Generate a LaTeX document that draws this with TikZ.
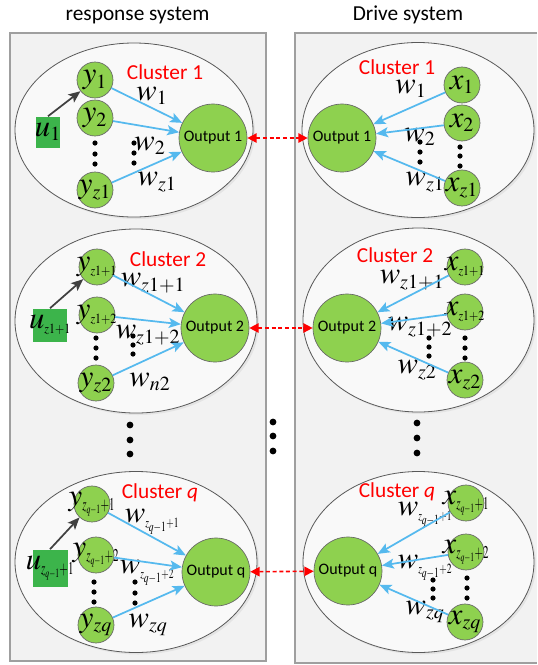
\documentclass[tikz,border=0pt]{standalone}
\usepackage{mathptmx}
\usepackage[no-math]{fontspec}
\setmainfont{Carlito}
\DeclareMathSizes{23}{23}{15}{10.5}
\usetikzlibrary{arrows.meta,shapes.geometric,shadows}
\definecolor{ngreen}{HTML}{8ED14F}
\definecolor{ugreen}{HTML}{3CB44B}
\definecolor{wblue}{HTML}{55B9EE}
\definecolor{panelg}{HTML}{F2F2F2}
\definecolor{ellg}{HTML}{F9F9F9}
\newcommand{\ct}[1]{\makebox[0pt]{$#1$}}
% squeezed subscripts
\newcommand{\sa}[1]{\hbox{\scalebox{0.85}[1]{$\scriptscriptstyle z1+#1$}}}
\newcommand{\sq}[1]{\hbox{\scalebox{0.55}[0.9]{$\scriptstyle z_{q-1}+#1$}}}
\newcommand{\wq}[1]{\hbox{\scalebox{0.68}[1]{$\scriptscriptstyle z_{q-1}+#1$}}}
\begin{document}
\begin{tikzpicture}[x=0.75pt,y=-0.75pt,
  panel/.style={draw=gray!75, line width=1.1pt, fill=panelg},
  clus/.style={ellipse, draw=black!65, line width=0.6pt, fill=ellg, inner sep=0pt,
    drop shadow={opacity=0.12, shadow xshift=1.5pt, shadow yshift=-1.5pt}},
  neuron/.style={circle, draw=black!60, line width=0.5pt, fill=ngreen, minimum size=27pt, inner sep=0pt,
    font=\fontsize{23}{25}\selectfont},
  outn/.style={circle, draw=black!60, line width=0.5pt, fill=ngreen, minimum size=51pt, inner sep=0pt,
    font=\fontsize{12}{14}\selectfont},
  ubox/.style={rectangle, fill=ugreen, inner sep=0pt, font=\fontsize{23}{25}\selectfont},
  clab/.style={text=red, font=\fontsize{16}{18}\selectfont},
  wlab/.style={inner sep=0pt, font=\fontsize{23}{25}\selectfont},
  ttl/.style={font=\fontsize{16}{18}\selectfont},
  wt/.style={draw=wblue, line width=1.3pt, -{Stealth[length=9pt,width=7.5pt,inset=2pt]}},
  ctl/.style={draw=black!75, line width=1.3pt, -{Stealth[length=9pt,width=7.5pt,inset=2pt]}},
  link/.style={draw=red, dashed, line width=1.2pt, dash pattern=on 3pt off 2pt,
    {Triangle[length=7pt,width=7pt]}-{Triangle[length=7pt,width=7pt]}},
]
\useasboundingbox (0,0) rectangle (537,665);
% titles
\node[ttl] (t1) at (137.5,15) {response system};
\node[ttl] (t2) at (408,15) {Drive system};
% panels
\filldraw[panel] (10,33) rectangle (266,661);
\fill[panelg] (295,33) rectangle (537,663);
\draw[draw=gray!75, line width=1.1pt] (537,33) -- (295,33) -- (295,663) -- (537,663);

% ================= ellipses
\node[clus, minimum width=178.5pt, minimum height=130.5pt] (L1) at (134,130) {};
\node[clus, minimum width=181.5pt, minimum height=138pt] (L2) at (136,321) {};
\node[clus, minimum width=181.5pt, minimum height=135.75pt] (Lq) at (136,562) {};
\node[clus, minimum width=174pt, minimum height=131.25pt] (R1) at (418,130) {};
\node[clus, minimum width=173.25pt, minimum height=138pt] (R2) at (418.5,320) {};
\node[clus, minimum width=173.25pt, minimum height=135.75pt] (Rq) at (418.5,562) {};

% ================= left cluster 1
\node[neuron] (ya1) at (95,80) {\ct{y_1}};
\node[neuron] (ya2) at (95,118) {\ct{y_2}};
\node[neuron] (ya3) at (95,190) {\ct{y_{z1}}};
\node[ubox, minimum width=18pt, minimum height=23.25pt] (ua) at (48,132) {\ct{u_1}};
\node[outn] (oL1) at (213,138) {Output 1};
\node[clab] (cL1) at (165,72) {Cluster 1};
\node[wlab] (wa1) at (152,96) {$w_1$};
\node[wlab] (wa2) at (150,146) {$w_2$};
\node[wlab] (wa3) at (157,182) {$w_{z1}$};
\foreach \y in {143,154,164} \fill (95,\y) circle (2.6);
\foreach \y in {143,153,163} \fill (134,\y) circle (2.6);
\draw[ctl] (ua.north) -- (ya1);
\draw[wt] (ya1) -- (oL1);
\draw[wt] (ya2) -- (oL1);
\draw[wt] (ya3) -- (oL1);

% ================= right cluster 1
\node[neuron] (xa1) at (462,85) {\ct{x_1}};
\node[neuron] (xa2) at (462,123) {\ct{x_2}};
\node[neuron] (xa3) at (462,188) {\ct{x_{z1}}};
\node[outn] (oR1) at (342,138) {Output 1};
\node[clab] (cR1) at (397,67) {Cluster 1};
\node[wlab] (wb1) at (411,89) {$w_1$};
\node[wlab] (wb2) at (420,137) {$w_2$};
\node[wlab] (wb3) at (425,182) {$w_{z1}$};
\foreach \y in {142,152,162} \fill (420,\y) circle (2.6);
\foreach \y in {147,156,166} \fill (460,\y) circle (2.6);
\draw[wt] (xa1) -- (oR1);
\draw[wt] (xa2) -- (oR1);
\draw[wt] (xa3) -- (oR1);

% ================= left cluster 2
\node[neuron] (yb1) at (97,267) {\ct{y_{\sa{1}}}};
\node[neuron] (yb2) at (97,315) {\ct{y_{\sa{2}}}};
\node[neuron] (yb3) at (96,383) {\ct{y_{z2}}};
\node[ubox, minimum width=25.5pt, minimum height=24.75pt] (ub) at (50,325) {\ct{u_{\sa{1}}}};
\node[outn] (oL2) at (215,328) {Output 2};
\node[clab] (cL2) at (168,259) {Cluster 2};
\node[wlab] (wc1) at (153,283) {$w_{z1+1}$};
\node[wlab] (wc2) at (148,335) {$w_{z1+2}$};
\node[wlab] (wc3) at (150,382) {$w_{n2}$};
\foreach \y in {338,348,358} \fill (96,\y) circle (2.6);
\foreach \y in {336,345,354} \fill (133,\y) circle (2.6);
\draw[ctl] (ub.north) -- (yb1);
\draw[wt] (yb1) -- (oL2);
\draw[wt] (yb2) -- (oL2);
\draw[wt] (yb3) -- (oL2);

% ================= right cluster 2
\node[neuron] (xb1) at (465,267) {\ct{x_{\sa{1}}}};
\node[neuron] (xb2) at (465,312) {\ct{x_{\sa{2}}}};
\node[neuron] (xb3) at (465,380) {\ct{x_{z2}}};
\node[outn] (oR2) at (347,328) {Output 2};
\node[clab] (cR2) at (395,255) {Cluster 2};
\node[wlab] (wd1) at (412,280) {$w_{z1+1}$};
\node[wlab] (wd2) at (420,327) {$w_{z1+2}$};
\node[wlab] (wd3) at (417,370) {$w_{z2}$};
\foreach \y in {338,347,356} \fill (429,\y) circle (2.6);
\foreach \y in {338,348,358} \fill (465,\y) circle (2.6);
\draw[wt] (xb1) -- (oR2);
\draw[wt] (xb2) -- (oR2);
\draw[wt] (xb3) -- (oR2);

% ================= dots between clusters
\foreach \y in {425,440,454} \fill (130,\y) circle (3.4);
\foreach \y in {423,438,453} \fill (417,\y) circle (3.4);
\foreach \y in {422,436,451} \fill (273,\y) circle (3.4);

% ================= left cluster q
\node[neuron] (yc1) at (92,504) {\ct{y_{\sq{1}}}};
\node[neuron] (yc2) at (96,555) {\ct{y_{\sq{2}}}};
\node[neuron] (yc3) at (96,625) {\ct{y_{zq}}};
\node[ubox, minimum width=26.25pt, minimum height=27.75pt] (uc) at (50,568) {\ct{u_{\sq{1}}}};
\node[outn] (oLq) at (216,572) {Output q};
\node[clab] (cLq) at (160,493) {Cluster \textit{q}};
\node[wlab] (we1) at (152,522) {$w_{\wq{1}}$};
\node[wlab] (we2) at (147,573) {$w_{\wq{2}}$};
\node[wlab] (we3) at (148,625) {$w_{zq}$};
\foreach \y in {582,592,602} \fill (94,\y) circle (2.6);
\foreach \y in {582,593,603} \fill (135,\y) circle (2.6);
\draw[ctl] (uc.north) -- (yc1);
\draw[wt] (yc1) -- (oLq);
\draw[wt] (yc2) -- (oLq);
\draw[wt] (yc3) -- (oLq);

% ================= right cluster q
\node[neuron] (xc1) at (466,503) {\ct{x_{\sq{1}}}};
\node[neuron] (xc2) at (466,552) {\ct{x_{\sq{2}}}};
\node[neuron] (xc3) at (465,622) {\ct{x_{zq}}};
\node[outn] (oRq) at (348,571) {Output q};
\node[clab] (cRq) at (397,492) {Cluster \textit{q}};
\node[wlab] (wf1) at (425,515) {$w_{\wq{1}}$};
\node[wlab] (wf2) at (425,568) {$w_{\wq{2}}$};
\node[wlab] (wf3) at (425,612) {$w_{zq}$};
\foreach \y in {580,589,598} \fill (433,\y) circle (2.6);
\foreach \y in {578,588,598} \fill (467,\y) circle (2.6);
\draw[wt] (xc1) -- (oRq);
\draw[wt] (xc2) -- (oRq);
\draw[wt] (xc3) -- (oRq);

% ================= links
\draw[link] (oL1) -- (oR1);
\draw[link] (oL2) -- (oR2);
\draw[link] (oLq) -- (oRq);
\end{tikzpicture}
\end{document}
